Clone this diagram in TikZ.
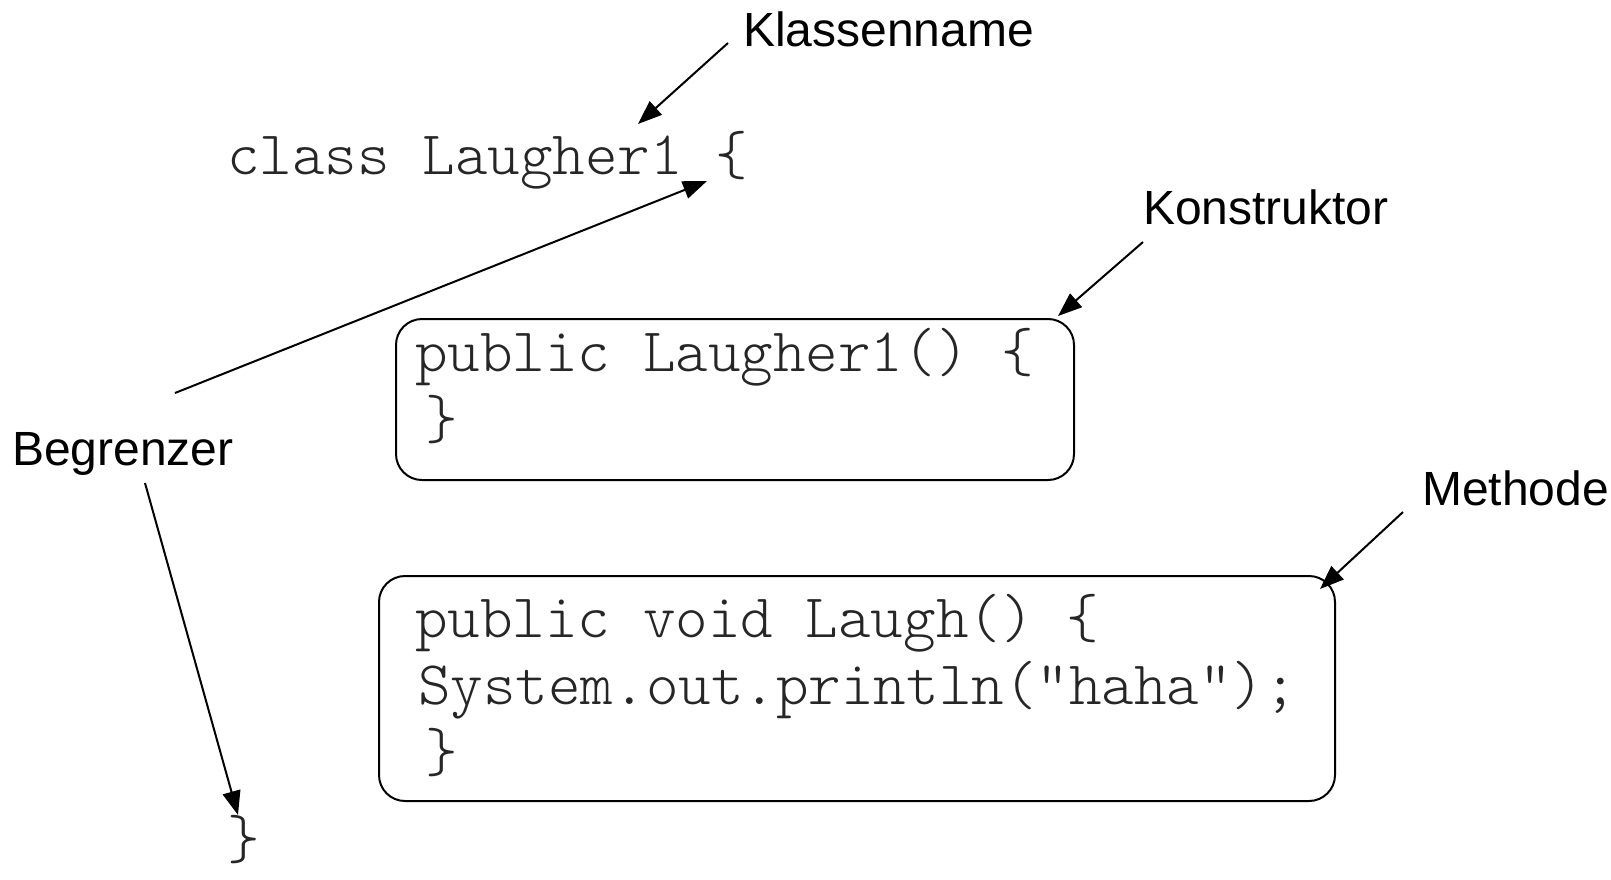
\documentclass[tikz,border=0pt]{standalone}
\usepackage{fontspec}
\setmainfont{Liberation Sans}
\newfontfamily\codefont{Latin Modern Mono Light}
\usetikzlibrary{arrows.meta}
\begin{document}
\begin{tikzpicture}[x=1pt,y=-1pt,
  lbl/.style={font=\fontsize{48}{58}\selectfont, inner sep=0pt, anchor=base west},
  code/.style={font=\codefont\fontsize{62}{67}\selectfont, text=black!85, inner sep=0pt, anchor=base west},
  arr/.style={line width=2pt, -{Triangle[length=24pt,width=18pt]}},
  cbox/.style={draw, line width=2pt, rounded corners=26pt, inner sep=0pt}
]
\useasboundingbox (0,0) rectangle (1611,879);

% labels
\node[lbl] (klass) at (743,46) {Klassenname};
\node[lbl] (konst) at (1143,224) {Konstruktor};
\node[lbl] (begr) at (12,465) {Begrenzer};
\node[lbl] (meth) at (1422,505) {Methode};

% code
\node[code] (cls) at (227,174) {class Laugher1 \{};
\node[cbox, minimum width=678pt, minimum height=161pt] (ctorbox) at (735,399.5) {};
\node[code] (c1a) at (415,371) {public Laugher1() \{};
\node[code] (c1b) at (425,438) {\}};
\node[cbox, minimum width=956pt, minimum height=225pt] (methbox) at (857,688.5) {};
\node[code] (m1) at (415,637) {public void Laugh() \{};
\node[code] (m2) at (418,704) {System.out.println("haha");};
\node[code] (m3) at (425,771) {\}};
\node[code] (cend) at (227,858) {\}};

% arrow targets
\coordinate (tname) at (638,124);
\coordinate (topen) at (707,181);
\coordinate (tctor) at (1058,316);
\coordinate (tmeth) at (1320,589);
\coordinate (tclose) at (238,815);

% arrows
\draw[arr] ([xshift=-15pt,yshift=3pt]klass.base west) -- (tname);
\draw[arr] ([xshift=163pt,yshift=72pt]begr.base west) -- (topen);
\draw[arr] ([xshift=133pt,yshift=-18pt]begr.base west) -- (tclose);
\draw[arr] ([yshift=-18pt]konst.base west) -- (tctor);
\draw[arr] ([xshift=-19pt,yshift=-7pt]meth.base west) -- (tmeth);
\end{tikzpicture}
\end{document}
